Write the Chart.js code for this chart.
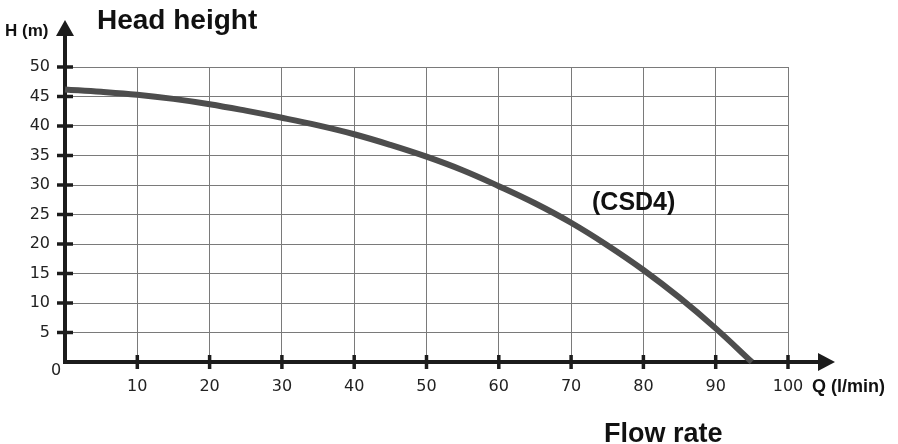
<!DOCTYPE html>
<html>
<head>
<meta charset="utf-8">
<script src="https://cdn.jsdelivr.net/npm/chart.js@4"></script>
<style>
  body { margin: 0; background: #fff; }
  canvas { display: block; }
</style>
</head>
<body>
<canvas id="pumpChart" width="898" height="444"></canvas>
<script>
// pump curve (Q in l/min, H in m)
const flowRate = [0, 5, 10, 15, 20, 25, 30, 35, 40, 45, 50, 55, 60, 65, 70, 75, 80, 85, 90, 95];
const headHeight = [46.2, 45.8, 45.3, 44.6, 43.7, 42.6, 41.4, 40.1, 38.6, 36.8, 34.8, 32.5, 29.8, 26.9, 23.6, 19.8, 15.6, 10.9, 5.7, 0];
const xTicks = [10, 20, 30, 40, 50, 60, 70, 80, 90, 100];
const yTicks = [5, 10, 15, 20, 25, 30, 35, 40, 45, 50];
const seriesName = '(CSD4)';

const ink = '#1c1c1c';
const tickFont = { family: 'DejaVu Sans', size: 16 };

const axesPlugin = {
  id: 'axesPlugin',
  beforeDatasetsDraw(chart) {
    const ctx = chart.ctx;
    const xs = chart.scales.x, ys = chart.scales.y;
    const x0 = xs.getPixelForValue(0);
    const y0 = ys.getPixelForValue(0);
    ctx.save();
    ctx.strokeStyle = ink;
    ctx.fillStyle = ink;
    ctx.lineWidth = 4;
    // y axis up to the arrow
    ctx.beginPath();
    ctx.moveTo(x0, y0 + 2);
    ctx.lineTo(x0, 34);
    ctx.stroke();
    ctx.beginPath();
    ctx.moveTo(x0, 20);
    ctx.lineTo(x0 - 9, 36);
    ctx.lineTo(x0 + 9, 36);
    ctx.closePath();
    ctx.fill();
    // x axis out to the arrow
    ctx.beginPath();
    ctx.moveTo(x0 - 2, y0);
    ctx.lineTo(820, y0);
    ctx.stroke();
    ctx.beginPath();
    ctx.moveTo(835, y0);
    ctx.lineTo(818, y0 - 9);
    ctx.lineTo(818, y0 + 9);
    ctx.closePath();
    ctx.fill();
    // tick marks
    ctx.lineWidth = 3.5;
    xTicks.forEach(v => {
      const px = xs.getPixelForValue(v);
      ctx.beginPath();
      ctx.moveTo(px, y0 - 7);
      ctx.lineTo(px, y0 + 7);
      ctx.stroke();
    });
    yTicks.forEach(v => {
      const py = ys.getPixelForValue(v);
      ctx.beginPath();
      ctx.moveTo(x0 - 8, py);
      ctx.lineTo(x0 + 8, py);
      ctx.stroke();
    });
    ctx.restore();
  },
  afterDraw(chart) {
    const ctx = chart.ctx;
    ctx.save();
    ctx.fillStyle = '#111';
    ctx.textAlign = 'left';
    ctx.textBaseline = 'alphabetic';
    ctx.font = 'bold 17px "Liberation Sans", Arial, sans-serif';
    ctx.fillText('H (m)', 5, 36);
    ctx.font = 'bold 28px "Liberation Sans", Arial, sans-serif';
    ctx.fillText('Head height', 97, 29);
    ctx.font = 'bold 25px "Liberation Sans", Arial, sans-serif';
    ctx.fillText(seriesName, 592, 210);
    ctx.font = 'bold 18px "Liberation Sans", Arial, sans-serif';
    ctx.fillText('Q (l/min)', 812, 392);
    ctx.font = 'bold 27px "Liberation Sans", Arial, sans-serif';
    ctx.fillText('Flow rate', 604, 442);
    ctx.font = '16px "DejaVu Sans", sans-serif';
    ctx.fillStyle = '#222';
    ctx.textAlign = 'center';
    ctx.textBaseline = 'middle';
    ctx.fillText('0', 56, 371);
    ctx.restore();
  }
};

new Chart(document.getElementById('pumpChart'), {
  type: 'line',
  data: {
    datasets: [{
      label: seriesName,
      data: flowRate.map((q, i) => ({ x: q, y: headHeight[i] })),
      borderColor: '#4d4d4d',
      borderWidth: 6,
      pointRadius: 0,
      tension: 0.4,
      clip: 8,
      fill: false
    }]
  },
  options: {
    responsive: false,
    devicePixelRatio: 1,
    animation: false,
    layout: { padding: { top: 67, right: 110, left: 0, bottom: 0 } },
    plugins: {
      legend: { display: false },
      tooltip: { enabled: false }
    },
    scales: {
      x: {
        type: 'linear',
        min: 0,
        max: 100,
        afterBuildTicks: s => { s.ticks = xTicks.map(v => ({ value: v })); },
        afterFit: s => { s.height = 82; },
        grid: { color: '#7a7a7a', lineWidth: 1, drawTicks: false },
        border: { display: false },
        ticks: { padding: 15, color: '#222', font: tickFont, maxRotation: 0, autoSkip: false }
      },
      y: {
        min: 0,
        max: 50,
        afterBuildTicks: s => { s.ticks = yTicks.map(v => ({ value: v })); },
        afterFit: s => { s.width = 65; },
        grid: { color: '#7a7a7a', lineWidth: 1, drawTicks: false },
        border: { display: false },
        ticks: { padding: 15, color: '#222', font: tickFont, autoSkip: false }
      }
    }
  },
  plugins: [axesPlugin]
});
</script>
</body>
</html>
